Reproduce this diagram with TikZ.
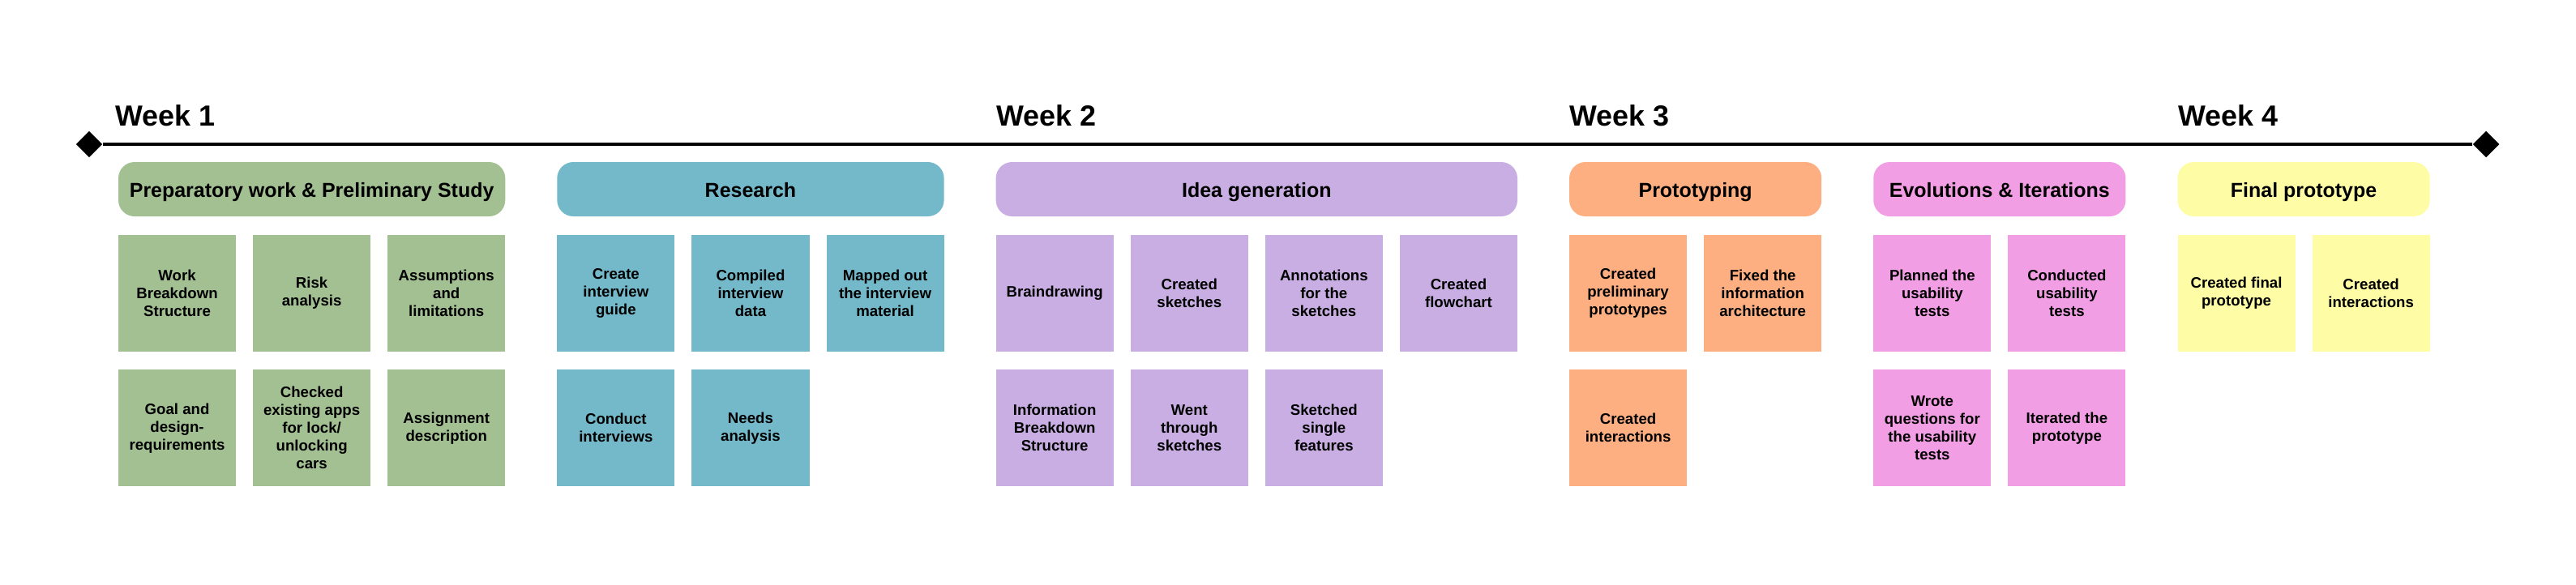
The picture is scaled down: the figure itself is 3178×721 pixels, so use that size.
\documentclass[tikz,border=0pt]{standalone}
\usepackage{fontspec}
\setmainfont{Liberation Sans}
\usepackage{xcolor}
\definecolor{cGreen}{HTML}{A2C092}
\definecolor{cBlue}{HTML}{74B9CA}
\definecolor{cPurple}{HTML}{C9AEE3}
\definecolor{cOrange}{HTML}{FDAF82}
\definecolor{cPink}{HTML}{F29EE4}
\definecolor{cYellow}{HTML}{FEFDA6}
\usepackage{tikz}
\usetikzlibrary{positioning,shapes.geometric}
\tikzset{
  week-label/.style={anchor=base west,inner sep=0pt,
    font=\bfseries\fontsize{10.2}{12}\selectfont},
  phase-box/.style={rectangle,rounded corners=0.2cm,draw=none,
    minimum height=0.67cm,inner sep=0pt,outer sep=0pt,
    text height=1.9mm,text depth=0mm,
    font=\bfseries\fontsize{7.1}{8.5}\selectfont},
  phase-wide/.style={phase-box,minimum width=4.77cm},
  phase-xwide/.style={phase-box,minimum width=6.43cm},
  phase-narrow/.style={phase-box,minimum width=3.11cm},
  task-box/.style={rectangle,draw=none,minimum width=1.45cm,
    minimum height=1.44cm,inner sep=0pt,outer sep=0pt,align=center,
    font=\bfseries\fontsize{5.3}{6.26}\selectfont},
  milestone/.style={diamond,fill=black,inner sep=0pt,minimum size=0.33cm},
  timeline/.style={line width=1.2pt,draw=black},
}

\begin{document}
\begin{tikzpicture}[x=0.01cm,y=-0.01cm,node distance=2.25mm and 2.1mm]
  \useasboundingbox (0,0) rectangle (3178,721);

  % timeline
  \node[milestone] (start) at (110,178) {};
  \node[milestone] (end) at (3067,178) {};
  \draw[timeline] (start) -- (end);

  % phases
  \node[phase-wide,fill=cGreen,anchor=north west] (prep) at (146,200) {Preparatory work \& Preliminary Study};
  \node[phase-wide,fill=cBlue,right=6.4mm of prep] (research) {Research};
  \node[phase-xwide,fill=cPurple,right=6.4mm of research] (idea) {Idea generation};
  \node[phase-narrow,fill=cOrange,right=6.4mm of idea] (proto) {Prototyping};
  \node[phase-narrow,fill=cPink,right=6.4mm of proto] (evo) {Evolutions \& Iterations};
  \node[phase-narrow,fill=cYellow,right=6.4mm of evo] (final) {Final prototype};

  % weeks
  \node[week-label] (week1) at (142,155) {Week 1};
  \node[week-label] (week2) at (idea.west |- week1.base) {Week 2};
  \node[week-label] (week3) at (proto.west |- week1.base) {Week 3};
  \node[week-label] (week4) at (final.west |- week1.base) {Week 4};

  % week 1: preparatory work
  \node[task-box,fill=cGreen,below right=2.25mm and 0mm of prep.south west] (prep-a) {Work\\Breakdown\\Structure};
  \node[task-box,fill=cGreen,right=of prep-a] (prep-b) {Risk\\analysis};
  \node[task-box,fill=cGreen,right=of prep-b] (prep-c) {Assumptions\\and\\limitations};
  \node[task-box,fill=cGreen,below=of prep-a] (prep-d) {Goal and\\design-\\requirements};
  \node[task-box,fill=cGreen,right=of prep-d] (prep-e) {Checked\\existing apps\\for lock/\\unlocking\\cars};
  \node[task-box,fill=cGreen,right=of prep-e] (prep-f) {Assignment\\description};

  % research
  \node[task-box,fill=cBlue,below right=2.25mm and 0mm of research.south west] (res-a) {Create\\interview\\guide};
  \node[task-box,fill=cBlue,right=of res-a] (res-b) {Compiled\\interview\\data};
  \node[task-box,fill=cBlue,right=of res-b] (res-c) {Mapped out\\the interview\\material};
  \node[task-box,fill=cBlue,below=of res-a] (res-d) {Conduct\\interviews};
  \node[task-box,fill=cBlue,right=of res-d] (res-e) {Needs\\analysis};

  % week 2: idea generation
  \node[task-box,fill=cPurple,below right=2.25mm and 0mm of idea.south west] (idea-a) {Braindrawing};
  \node[task-box,fill=cPurple,right=of idea-a] (idea-b) {Created\\sketches};
  \node[task-box,fill=cPurple,right=of idea-b] (idea-c) {Annotations\\for the\\sketches};
  \node[task-box,fill=cPurple,right=of idea-c] (idea-d) {Created\\flowchart};
  \node[task-box,fill=cPurple,below=of idea-a] (idea-e) {Information\\Breakdown\\Structure};
  \node[task-box,fill=cPurple,right=of idea-e] (idea-f) {Went\\through\\sketches};
  \node[task-box,fill=cPurple,right=of idea-f] (idea-g) {Sketched\\single\\features};

  % week 3: prototyping
  \node[task-box,fill=cOrange,below right=2.25mm and 0mm of proto.south west] (proto-a) {Created\\preliminary\\prototypes};
  \node[task-box,fill=cOrange,right=of proto-a] (proto-b) {Fixed the\\information\\architecture};
  \node[task-box,fill=cOrange,below=of proto-a] (proto-c) {Created\\interactions};

  % evolutions
  \node[task-box,fill=cPink,below right=2.25mm and 0mm of evo.south west] (evo-a) {Planned the\\usability\\tests};
  \node[task-box,fill=cPink,right=of evo-a] (evo-b) {Conducted\\usability\\tests};
  \node[task-box,fill=cPink,below=of evo-a] (evo-c) {Wrote\\questions for\\the usability\\tests};
  \node[task-box,fill=cPink,right=of evo-c] (evo-d) {Iterated the\\prototype};

  % week 4: final prototype
  \node[task-box,fill=cYellow,below right=2.25mm and 0mm of final.south west] (final-a) {Created final\\prototype};
  \node[task-box,fill=cYellow,right=of final-a] (final-b) {Created\\interactions};
\end{tikzpicture}
\end{document}
